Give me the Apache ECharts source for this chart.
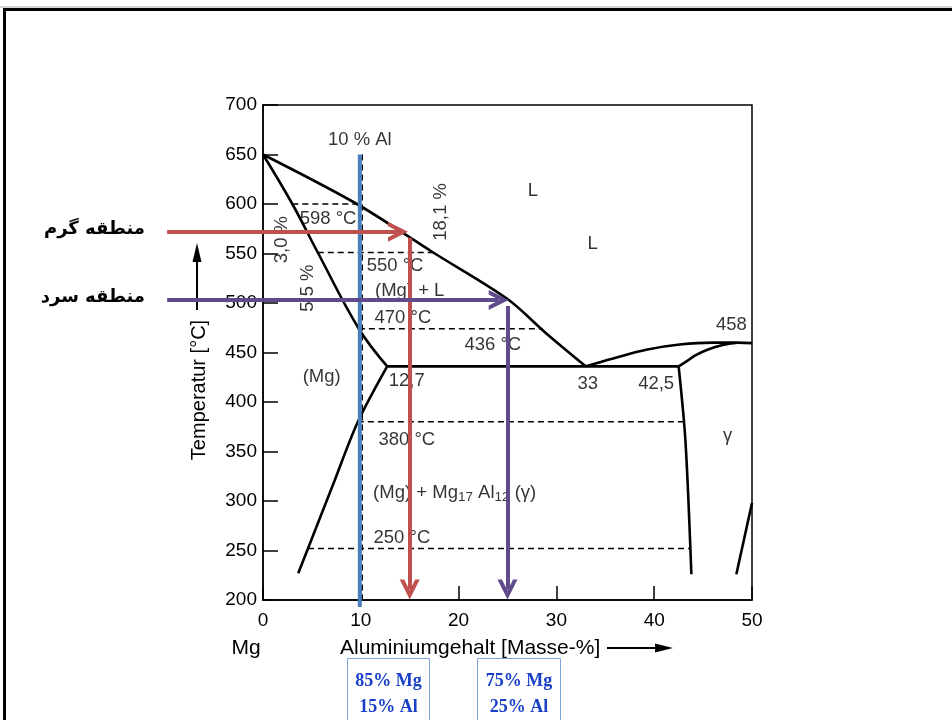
<!DOCTYPE html>
<html><head><meta charset="utf-8">
<script src="https://cdn.jsdelivr.net/npm/echarts@6/dist/echarts.min.js"></script>
<style>html,body{margin:0;padding:0;background:#fff}#c{width:952px;height:720px}</style>
</head><body><div id="c"></div>
<script>
// ---- data (Al mass-% , temperature °C) ----
const xTicks = [0, 10, 20, 30, 40, 50];
const yTicks = [200, 250, 300, 350, 400, 450, 500, 550, 600, 650, 700];
const liquidusMg = [[0,650],[9.6,600],[17.4,551],[25,504],[29,469],[33,436]];
const solidusMg = [[0,650],[3.0,600],[5.6,551],[9.8,474],[12.7,436]];
const solvusMg = [[12.7,436],[9.7,380],[7.1,315],[4.6,252],[3.6,227]];
const eutectic = [[12.7,436],[42.5,436]];
const gammaLeft = [[42.5,436],[43.2,360],[43.8,226]];
const gammaLiquidus = [[33,436],[35.8,444],[39.3,453],[42.6,458],[46,460],[48.5,460],[50,459.5]];
const gammaSolidus = [[42.5,436],[43.3,441],[44.2,447],[45.5,453],[47,457.5],[48.5,459.8]];
const gammaRight = [[48.4,226],[50,298]];
const isotherm598 = [[3.0,600],[9.6,600]];
const isotherm550 = [[5.6,551],[17.4,551]];
const isotherm470 = [[9.8,474],[28.6,474]];
const isotherm380 = [[9.7,380],[43.0,380]];
const isotherm250 = [[4.6,252],[43.7,252]];
const alloy10 = [[10.15,650],[10.15,200]];
const blueLine = [[9.9,650],[9.9,193]];
const hotH = [[-9.8,572],[13.8,572]];
const hotV = [[15,566],[15,210.5]];
const coldH = [[-9.8,503],[24.1,503]];
const coldV = [[25,497],[25,210.5]];
const noteTexts = ['10 % Al','598 °C','18,1 %','3,0 %','5,5 %','550 °C','(Mg) + L','470 °C','436 °C','L','L','458','(Mg)','12,7','33','42,5','380 °C','γ','(Mg) + Mg{s|17} Al{s|12} (γ)','250 °C'];
const noteX = [9.9, 6.65, 18.2, 1.94, 4.6, 13.5, 15.0, 14.3, 23.5, 27.6, 33.7, 47.9, 6.0, 14.7, 33.2, 40.2, 14.7, 47.5, 19.6, 14.2];
const noteY = [664.7, 585, 592, 564, 515, 537, 512, 485, 458, 613, 560, 478, 425.5, 421.5, 418.5, 418.5, 362, 366, 308.5, 263];
const noteRot = [0,0,90,90,90,0,0,0,0,0,0,0,0,0,0,0,0,0,0,0];
const zoneLabels = ['منطقه گرم', 'منطقه سرد'];
const boxLabels = [['85% Mg','15% Al'], ['75% Mg','25% Al']];

const chart = echarts.init(document.getElementById('c'), null, {renderer: 'canvas'});
const black = '#000';
const RED = '#c0504d', PURPLE = '#5f4b8b', BLUE = '#4a7ebb';
const chevron = 'path://M10,0 L20,20 L15.5,20 L10,9 L4.5,20 L0,20 Z';
const tickFont = 'Liberation Sans';

function curve(data, smooth) {
  return {type:'line', data, smooth: smooth || 0, symbol:'none', silent:true, z:2,
    lineStyle:{color:black, width:2.6}};
}
function dashed(data) {
  return {type:'line', data, symbol:'none', silent:true, z:2,
    lineStyle:{color:black, width:1.5, type:[6,4]}};
}
function arrow(coords, color) {
  return {type:'lines', coordinateSystem:'cartesian2d', clip:false, silent:true, z:6,
    symbol:['none', chevron], symbolSize:[20,20],
    lineStyle:{color, width:4, opacity:1, curveness:0},
    data:[{coords}]};
}

const notes = noteTexts.map((t,i) => ({
  value:[noteX[i], noteY[i]], name:t,
  label:{rotate: noteRot[i]}
}));

const graphic = [
  {type:'line', shape:{x1:0,y1:7,x2:952,y2:7}, style:{stroke:'#aaa', lineWidth:1}, silent:true},
  {type:'rect', shape:{x:4.5,y:9.5,width:1200,height:1200}, style:{fill:'none', stroke:'#000', lineWidth:3}, silent:true},
  {type:'text', x:199, y:390, rotation:Math.PI/2, style:{text:'Temperatur [°C]', font:'20px "Liberation Sans"', fill:'#000', align:'center', verticalAlign:'middle'}},
  {type:'line', shape:{x1:197,y1:310,x2:197,y2:258}, style:{stroke:'#000', lineWidth:2}},
  {type:'polygon', shape:{points:[[192.5,262],[201.5,262],[197,243]]}, style:{fill:'#000'}},
  {type:'text', x:340, y:648, style:{text:'Aluminiumgehalt [Masse-%]', font:'21px "Liberation Sans"', fill:'#000', align:'left', verticalAlign:'middle'}},
  {type:'text', x:246, y:648, style:{text:'Mg', font:'21px "Liberation Sans"', fill:'#000', align:'center', verticalAlign:'middle'}},
  {type:'line', shape:{x1:607,y1:648,x2:660,y2:648}, style:{stroke:'#000', lineWidth:2}},
  {type:'polygon', shape:{points:[[655,643.5],[655,652.5],[673,648]]}, style:{fill:'#000'}},
  {type:'text', x:145, y:229, style:{text:zoneLabels[0], font:'bold 18px "DejaVu Sans"', fill:'#000', align:'right', verticalAlign:'middle'}},
  {type:'text', x:145, y:297, style:{text:zoneLabels[1], font:'bold 18px "DejaVu Sans"', fill:'#000', align:'right', verticalAlign:'middle'}},
  {type:'rect', shape:{x:347.5,y:658.5,width:82,height:80}, style:{fill:'#fff', stroke:'#7ea6d8', lineWidth:1}},
  {type:'rect', shape:{x:477.5,y:658.5,width:83,height:80}, style:{fill:'#fff', stroke:'#7ea6d8', lineWidth:1}},
  {type:'text', x:388.5, y:681, style:{text:boxLabels[0][0], font:'bold 18px "Liberation Serif"', fill:'#1a40c8', align:'center', verticalAlign:'middle'}},
  {type:'text', x:388.5, y:707, style:{text:boxLabels[0][1], font:'bold 18px "Liberation Serif"', fill:'#1a40c8', align:'center', verticalAlign:'middle'}},
  {type:'text', x:519, y:681, style:{text:boxLabels[1][0], font:'bold 18px "Liberation Serif"', fill:'#1a40c8', align:'center', verticalAlign:'middle'}},
  {type:'text', x:519, y:707, style:{text:boxLabels[1][1], font:'bold 18px "Liberation Serif"', fill:'#1a40c8', align:'center', verticalAlign:'middle'}}
];

chart.setOption({
  animation:false,
  backgroundColor:'#fff',
  grid:{left:263, right:200, top:105, bottom:120, show:true, borderColor:'#000', borderWidth:1.5, backgroundColor:'transparent'},
  xAxis:{type:'value', min:xTicks[0], max:xTicks[xTicks.length-1], interval:10,
    axisLine:{show:true, lineStyle:{color:'#000', width:1.5}},
    axisTick:{show:true, inside:true, length:14, lineStyle:{color:'#000', width:1.5}},
    axisLabel:{color:'#000', fontSize:19, fontFamily:tickFont, margin:11},
    splitLine:{show:false}},
  yAxis:{type:'value', min:yTicks[0], max:yTicks[yTicks.length-1], interval:50,
    axisLine:{show:true, lineStyle:{color:'#000', width:1.5}},
    axisTick:{show:true, inside:true, length:15, lineStyle:{color:'#000', width:1.5}},
    axisLabel:{color:'#000', fontSize:19, fontFamily:tickFont, margin:6},
    splitLine:{show:false}},
  graphic,
  series:[
    curve(liquidusMg, 0.3),
    curve(solidusMg, 0.4),
    curve(solvusMg, 0.3),
    curve(eutectic),
    curve(gammaLeft, 0.3),
    curve(gammaLiquidus, 0.4),
    curve(gammaSolidus, 0.4),
    curve(gammaRight),
    dashed(isotherm598), dashed(isotherm550), dashed(isotherm470), dashed(isotherm380), dashed(isotherm250),
    dashed(alloy10),
    {type:'scatter', data:notes, symbolSize:1, silent:true, z:3,
      itemStyle:{color:'rgba(0,0,0,0)'},
      label:{show:true, position:'inside', formatter:p=>p.name, color:'#000', fontSize:18.5, fontFamily:tickFont,
        rich:{s:{fontSize:13.5, fontFamily:tickFont, color:'#000', padding:[9,0,0,0]}}}},
    {type:'line', data:blueLine, symbol:'none', silent:true, clip:false, z:5, lineStyle:{color:BLUE, width:4}},
    arrow(hotH, RED), arrow(hotV, RED), arrow(coldH, PURPLE), arrow(coldV, PURPLE)
  ]
});
</script></body></html>
